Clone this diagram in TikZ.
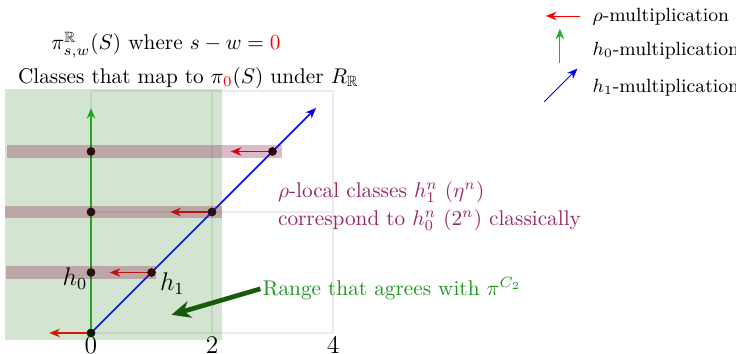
\documentclass[tikz,border=0pt]{standalone}
\usepackage{amsmath,amssymb}
\usetikzlibrary{arrows.meta}
\definecolor{bandc}{RGB}{127,0,57}
\definecolor{purpletext}{RGB}{150,40,100}
\definecolor{rangegreen}{RGB}{30,150,30}
\definecolor{darkarrow}{RGB}{25,90,10}
\definecolor{overlaygreen}{RGB}{35,120,20}
\definecolor{hzero}{RGB}{30,180,30}
\begin{document}
\begin{tikzpicture}[x=1cm,y=1cm,
  dot/.style={circle,fill=black,inner sep=0pt,minimum size=0.14cm},
  rhoarrow/.style={red,thick,-{Stealth[length=5pt,width=4pt]}},
  hzeroarrow/.style={hzero,thick,-{Stealth[length=5pt,width=4pt]}},
  honearrow/.style={blue,thick,-{Stealth[length=5pt,width=4pt]}},
  legarrow/.style={-{Stealth[length=5pt,width=4pt]}},
  band/.style={fill=bandc,fill opacity=0.27,draw=none},
  ticklabel/.style={font=\large,inner sep=1pt},
  legtext/.style={anchor=west,inner sep=1pt,font=\small},
  gridline/.style={black!8,line width=0.6pt}]
\useasboundingbox (-1.504,-0.347) rectangle (10.661,5.504);
% grid
\draw[gridline] (0,0) grid[step=2] (4,4);
% ticks
\node[ticklabel] (t0) at (0,-0.2) {0};
\node[ticklabel] (t2) at (2,-0.2) {2};
\node[ticklabel] (t4) at (4,-0.2) {4};
% dots
\node[dot] (d0) at (0,0) {};
\node[dot] (a1) at (0,1) {};
\node[dot] (a2) at (0,2) {};
\node[dot] (a3) at (0,3) {};
\node[dot] (b1) at (1,1) {};
\node[dot] (b2) at (2,2) {};
\node[dot] (b3) at (3,3) {};
\coordinate (gtop) at (0,3.72);
\coordinate (btop) at (3.72,3.72);
\coordinate (r0) at (-0.69,0);
\coordinate (r1) at (0.31,1);
\coordinate (r2) at (1.31,2);
\coordinate (r3) at (2.31,3);
\draw[hzeroarrow] (d0.center) -- (gtop);
\draw[honearrow] (d0.center) -- (btop);
\draw[rhoarrow] (d0.center) -- (r0);
\draw[rhoarrow] (b1.center) -- (r1);
\draw[rhoarrow] (b2.center) -- (r2);
\draw[rhoarrow] (b3.center) -- (r3);
\foreach \n in {d0,a1,a2,a3,b1,b2,b3} \node[dot] at (\n) {};
% overlays
\fill[overlaygreen,fill opacity=0.2] (-1.42,-0.12) rectangle (2.17,4.03);
\fill[band] (-1.40,0.9) rectangle (1.08,1.1);
\fill[band] (-1.42,1.9) rectangle (2.17,2.1);
\fill[band] (-1.39,2.9) rectangle (3.16,3.1);
% labels
\node[font=\large,anchor=east,inner sep=1pt] (h0) at (-0.02,0.9) {$h_0$};
\node[font=\large,anchor=west,inner sep=1pt] (h1) at (1.1,0.82) {$h_1$};
% titles
\node (title) at (1.24,4.76) {$\pi^{\mathbb{R}}_{s,w}(S)$ where $s-w=\textcolor{red}{0}$};
\node (title2) at (1.61,4.21) {Classes that map to $\pi_{\textcolor{red}{0}}(S)$ under $R_{\mathbb{R}}$};
% purple text
\node[anchor=west,align=left,text=purpletext,inner sep=1pt] (rholocal) at (3.05,2.1) {$\rho$-local classes $h_1^n$ $(\eta^n)$\\[1pt]correspond to $h_0^n$ $(2^n)$ classically};
% range
\node[anchor=west,text=rangegreen,inner sep=1pt] (range) at (2.80,0.73) {Range that agrees with $\pi^{C_2}$};
\coordinate (rangetip) at (1.33,0.3);
\draw[darkarrow,line width=2.2pt,-{Stealth[length=9pt,width=8pt]}] (range.west) -- (rangetip);
% legend
\coordinate (lr1) at (8.08,5.24);
\coordinate (lr2) at (7.52,5.24);
\coordinate (lg1) at (7.75,4.46);
\coordinate (lg2) at (7.75,5.03);
\coordinate (lb1) at (7.49,3.82);
\coordinate (lb2) at (8.04,4.37);
\draw[legarrow,red] (lr1) -- (lr2);
\draw[legarrow,hzero] (lg1) -- (lg2);
\draw[legarrow,blue] (lb1) -- (lb2);
\node[legtext] (leg1) at (8.25,5.22) {$\rho$-multiplication};
\node[legtext] (leg2) at (8.25,4.66) {$h_0$-multiplication};
\node[legtext] (leg3) at (8.25,4.06) {$h_1$-multiplication};
\end{tikzpicture}
\end{document}
